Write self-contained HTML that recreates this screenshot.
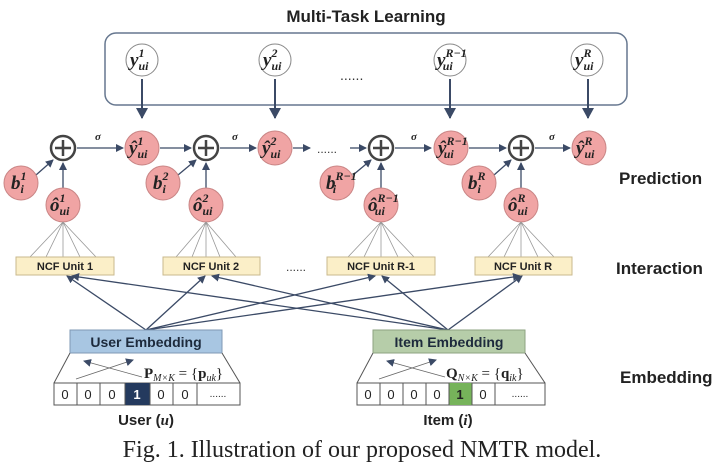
<!DOCTYPE html>
<html><head><meta charset="utf-8"><style>
body{margin:0;background:#fff}
svg{display:block}
.t{font-family:"Liberation Sans",sans-serif;font-weight:bold}
.m{font-family:"Liberation Serif",serif;font-weight:bold;font-style:italic}
</style></head><body>
<svg width="720" height="469" viewBox="0 0 720 469" xmlns="http://www.w3.org/2000/svg">
<defs>
<marker id="a" markerWidth="8" markerHeight="8" refX="7" refY="4" orient="auto" markerUnits="userSpaceOnUse"><path d="M0,0 L8,4 L0,8 z" fill="#3b4a66"/></marker>
<marker id="b" markerWidth="12" markerHeight="12" refX="10" refY="6" orient="auto" markerUnits="userSpaceOnUse"><path d="M0,0 L11,6 L0,12 z" fill="#3b4a66"/></marker>
</defs>
<text x="366" y="22" class="t" font-size="17" text-anchor="middle" fill="#222">Multi-Task Learning</text>
<rect x="105" y="33" width="522" height="72" rx="11" fill="none" stroke="#66778f" stroke-width="1.5"/>
<g stroke="#888" stroke-width="1" fill="#fff">
<circle cx="142" cy="60" r="16"/><circle cx="275" cy="60" r="16"/><circle cx="450" cy="60" r="16"/><circle cx="587" cy="60" r="16"/>
</g>
<g class="m" font-size="19" fill="#222">
<text x="130" y="66">y<tspan font-size="12" dy="-9">1</tspan><tspan font-size="12" dx="-6" dy="13">ui</tspan></text>
<text x="263" y="66">y<tspan font-size="12" dy="-9">2</tspan><tspan font-size="12" dx="-6" dy="13">ui</tspan></text>
<text x="437" y="66">y<tspan font-size="12" dy="-9">R−1</tspan><tspan font-size="12" dx="-24" dy="13">ui</tspan></text>
<text x="575" y="66">y<tspan font-size="12" dy="-9">R</tspan><tspan font-size="12" dx="-8" dy="13">ui</tspan></text>
</g>
<text x="340" y="80" font-family="Liberation Sans" font-size="14" fill="#333">......</text>
<g stroke="#3b4a66" stroke-width="2" marker-end="url(#b)">
<line x1="142" y1="79" x2="142" y2="118"/><line x1="275" y1="79" x2="275" y2="118"/><line x1="450" y1="79" x2="450" y2="118"/><line x1="588" y1="79" x2="588" y2="118"/>
</g>
<g stroke="#3b4a66" stroke-width="1.3" marker-end="url(#a)">
<line x1="77" y1="148" x2="123" y2="148"/>
<line x1="160" y1="148" x2="191" y2="148"/>
<line x1="220" y1="148" x2="256" y2="148"/>
<line x1="293" y1="148" x2="310" y2="148"/>
<line x1="350" y1="148" x2="366" y2="148"/>
<line x1="395" y1="148" x2="431" y2="148"/>
<line x1="469" y1="148" x2="506" y2="148"/>
<line x1="535" y1="148" x2="570" y2="148"/>
<line x1="36" y1="175" x2="53" y2="160"/>
<line x1="178" y1="175" x2="196" y2="160"/>
<line x1="353" y1="175" x2="371" y2="160"/>
<line x1="494" y1="175" x2="511" y2="160"/>
<line x1="63" y1="189" x2="63" y2="163"/>
<line x1="206" y1="189" x2="206" y2="163"/>
<line x1="381" y1="189" x2="381" y2="163"/>
<line x1="521" y1="189" x2="521" y2="163"/>
</g>
<text x="317" y="153" font-family="Liberation Sans" font-size="12" fill="#333">......</text>
<g font-family="Liberation Serif" font-style="italic" font-weight="bold" font-size="11" fill="#222">
<text x="95" y="140">σ</text><text x="232" y="140">σ</text><text x="411" y="140">σ</text><text x="549" y="140">σ</text>
</g>
<g stroke="#444" stroke-width="2.5" fill="#fff">
<circle cx="63" cy="148" r="12"/><circle cx="206" cy="148" r="12"/><circle cx="381" cy="148" r="12"/><circle cx="521" cy="148" r="12"/>
</g>
<g stroke="#444" stroke-width="2.5">
<path d="M55,148h16M63,140v16M198,148h16M206,140v16M373,148h16M381,140v16M513,148h16M521,140v16"/>
</g>
<g fill="#f0a4a4" stroke="#c98585" stroke-width="1">
<circle cx="142" cy="148" r="17"/><circle cx="275" cy="148" r="17"/><circle cx="451" cy="148" r="17"/><circle cx="589" cy="148" r="17"/>
<circle cx="21" cy="183" r="17"/><circle cx="163" cy="183" r="17"/><circle cx="337" cy="183" r="17"/><circle cx="479" cy="183" r="17"/>
<circle cx="63" cy="205" r="17"/><circle cx="206" cy="205" r="17"/><circle cx="381" cy="205" r="17"/><circle cx="521" cy="205" r="17"/>
</g>
<g class="m" font-size="19" fill="#222">
<text x="129" y="154">ŷ<tspan font-size="12" dy="-9">1</tspan><tspan font-size="12" dx="-6" dy="13">ui</tspan></text>
<text x="262" y="154">ŷ<tspan font-size="12" dy="-9">2</tspan><tspan font-size="12" dx="-6" dy="13">ui</tspan></text>
<text x="438" y="154">ŷ<tspan font-size="12" dy="-9">R−1</tspan><tspan font-size="12" dx="-24" dy="13">ui</tspan></text>
<text x="576" y="154">ŷ<tspan font-size="12" dy="-9">R</tspan><tspan font-size="12" dx="-8" dy="13">ui</tspan></text>
<text x="11" y="189">b<tspan font-size="12" dy="-9">1</tspan><tspan font-size="12" dx="-6" dy="13">i</tspan></text>
<text x="153" y="189">b<tspan font-size="12" dy="-9">2</tspan><tspan font-size="12" dx="-6" dy="13">i</tspan></text>
<text x="326" y="189">b<tspan font-size="12" dy="-9">R−1</tspan><tspan font-size="12" dx="-24" dy="13">i</tspan></text>
<text x="468" y="189">b<tspan font-size="12" dy="-9">R</tspan><tspan font-size="12" dx="-8" dy="13">i</tspan></text>
<text x="50" y="211">ô<tspan font-size="12" dy="-9">1</tspan><tspan font-size="12" dx="-6" dy="13">ui</tspan></text>
<text x="193" y="211">ô<tspan font-size="12" dy="-9">2</tspan><tspan font-size="12" dx="-6" dy="13">ui</tspan></text>
<text x="368" y="211">ô<tspan font-size="12" dy="-9">R−1</tspan><tspan font-size="12" dx="-24" dy="13">ui</tspan></text>
<text x="508" y="211">ô<tspan font-size="12" dy="-9">R</tspan><tspan font-size="12" dx="-8" dy="13">ui</tspan></text>
</g>
<g stroke="#999" stroke-width="0.8">
<path d="M63,222L30,257M63,222L46,257M63,222L63,257M63,222L80,257M63,222L96,257"/>
<path d="M206,222L176,257M206,222L192,257M206,222L206,257M206,222L220,257M206,222L236,257"/>
<path d="M381,222L348,257M381,222L364,257M381,222L381,257M381,222L398,257M381,222L414,257"/>
<path d="M521,222L488,257M521,222L504,257M521,222L521,257M521,222L538,257M521,222L554,257"/>
</g>
<g fill="#fbefc8" stroke="#c9b98e" stroke-width="1">
<rect x="16" y="257" width="98" height="18"/><rect x="163" y="257" width="97" height="18"/><rect x="327" y="257" width="108" height="18"/><rect x="475" y="257" width="97" height="18"/>
</g>
<g class="t" font-size="11" fill="#222" text-anchor="middle">
<text x="65" y="270">NCF Unit 1</text><text x="211" y="270">NCF Unit 2</text><text x="381" y="270">NCF Unit R-1</text><text x="523" y="270">NCF Unit R</text>
</g>
<text x="286" y="271" font-family="Liberation Sans" font-size="12" fill="#333">......</text>
<g class="t" font-size="17" fill="#222">
<text x="619" y="184">Prediction</text><text x="616" y="274">Interaction</text><text x="620" y="383">Embedding</text>
</g>
<g stroke="#3b4a66" stroke-width="1.3" marker-end="url(#a)">
<line x1="146" y1="330" x2="67" y2="276"/><line x1="146" y1="330" x2="205" y2="276"/><line x1="146" y1="330" x2="375" y2="276"/><line x1="146" y1="330" x2="520" y2="276"/>
<line x1="448" y1="330" x2="72" y2="276"/><line x1="448" y1="330" x2="212" y2="276"/><line x1="448" y1="330" x2="382" y2="276"/><line x1="448" y1="330" x2="522" y2="276"/>
</g>
<rect x="70" y="330" width="152" height="23" fill="#a8c6e2" stroke="#7f98b4"/>
<text x="146" y="347" class="t" font-size="14" text-anchor="middle" fill="#1d2a3c">User Embedding</text>
<rect x="373" y="330" width="152" height="23" fill="#b6cda9" stroke="#8ea381"/>
<text x="449" y="347" class="t" font-size="14" text-anchor="middle" fill="#1d2a3c">Item Embedding</text>
<g stroke="#555" stroke-width="1" fill="none">
<path d="M70,353L54,383M222,353L240,383M373,353L357,383M525,353L545,383"/>
</g>
<g stroke="#666" stroke-width="0.8" marker-end="url(#a)">
<line x1="76" y1="379" x2="133" y2="360"/><line x1="142" y1="377" x2="84" y2="361"/>
<line x1="379" y1="379" x2="436" y2="360"/><line x1="445" y1="377" x2="387" y2="361"/>
</g>
<text x="144" y="378" font-family="Liberation Serif" font-size="15" font-weight="bold" fill="#222">P<tspan font-size="10" font-style="italic" font-weight="normal" dy="3">M×K</tspan><tspan dy="-3" font-weight="normal"> = {</tspan>p<tspan font-size="10" font-style="italic" font-weight="normal" dy="3">uk</tspan><tspan dy="-3" font-weight="normal">}</tspan></text>
<text x="446" y="378" font-family="Liberation Serif" font-size="15" font-weight="bold" fill="#222">Q<tspan font-size="10" font-style="italic" font-weight="normal" dy="3">N×K</tspan><tspan dy="-3" font-weight="normal"> = {</tspan>q<tspan font-size="10" font-style="italic" font-weight="normal" dy="3">ik</tspan><tspan dy="-3" font-weight="normal">}</tspan></text>
<rect x="54" y="383" width="186" height="22" fill="#fff" stroke="#555"/>
<rect x="125" y="383" width="25" height="22" fill="#243a5e"/>
<g stroke="#555"><path d="M77,383v22M100,383v22M125,383v22M150,383v22M173,383v22M197,383v22"/></g>
<g font-family="Liberation Sans" font-size="13" text-anchor="middle" fill="#222">
<text x="65" y="399">0</text><text x="88" y="399">0</text><text x="112" y="399">0</text><text x="137" y="399" fill="#fff" font-weight="bold">1</text><text x="161" y="399">0</text><text x="185" y="399">0</text><text x="218" y="397" font-size="10">......</text>
</g>
<rect x="357" y="383" width="188" height="22" fill="#fff" stroke="#555"/>
<rect x="449" y="383" width="23" height="22" fill="#76b35a"/>
<g stroke="#555"><path d="M380,383v22M403,383v22M426,383v22M449,383v22M472,383v22M495,383v22"/></g>
<g font-family="Liberation Sans" font-size="13" text-anchor="middle" fill="#222">
<text x="368" y="399">0</text><text x="391" y="399">0</text><text x="414" y="399">0</text><text x="437" y="399">0</text><text x="460" y="399" font-weight="bold">1</text><text x="483" y="399">0</text><text x="520" y="397" font-size="10">......</text>
</g>
<text x="146" y="425" class="t" font-size="15" text-anchor="middle" fill="#222">User (<tspan font-family="Liberation Serif" font-style="italic">u</tspan>)</text>
<text x="448" y="425" class="t" font-size="15" text-anchor="middle" fill="#222">Item (<tspan font-family="Liberation Serif" font-style="italic">i</tspan>)</text>
<text x="362" y="457" font-family="Liberation Serif" font-size="24" text-anchor="middle" fill="#222">Fig. 1.  Illustration of our proposed NMTR model.</text>
</svg>
</body></html>
